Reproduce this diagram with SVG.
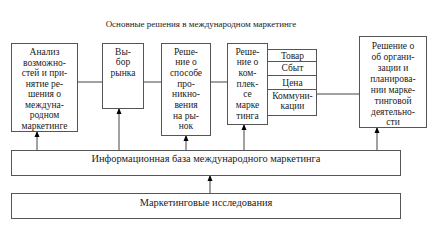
<svg xmlns="http://www.w3.org/2000/svg" width="434" height="227" viewBox="0 0 434 227">
<defs>
<marker id="ah" markerWidth="6" markerHeight="6" refX="5" refY="3" orient="auto" markerUnits="userSpaceOnUse">
<path d="M0,0.5 L6,3 L0,5.5 Z" fill="#000"/>
</marker>
</defs>
<style>
.b{fill:#fff;stroke:#555;stroke-width:1}
.t{font-family:'Liberation Serif','Times New Roman',serif;font-size:9.5px;fill:#222;text-anchor:middle}
.s9{font-size:9px}
.s10{font-size:10.4px}
.c{stroke:#444;stroke-width:1;fill:none}
.a{stroke:#444;stroke-width:1;fill:none;marker-end:url(#ah)}
</style>
<rect width="434" height="227" fill="#fff"/>
<text class="t s9" x="201" y="27">Основные решения в международном маркетинге</text>

<g id="connectors">
<line class="c" x1="78" y1="82" x2="102" y2="82"/>
<line class="c" x1="144" y1="82" x2="161" y2="82"/>
<line class="c" x1="211" y1="82" x2="227" y2="82"/>
<line class="c" x1="317" y1="94" x2="359" y2="94"/>
<line class="a" x1="37" y1="150" x2="37" y2="132"/>
<line class="a" x1="119" y1="150" x2="119" y2="109"/>
<line class="a" x1="186" y1="150" x2="186" y2="136"/>
<line class="a" x1="244" y1="150" x2="244" y2="125"/>
<line class="a" x1="377" y1="150" x2="377" y2="128"/>
<line class="a" x1="210" y1="193" x2="210" y2="176"/>
</g>

<g id="n1">
<rect class="b" x="11.5" y="43.5" width="66" height="88"/>
<text class="t" x="44.5" y="55">Анализ</text>
<text class="t" x="44.5" y="65.5">возможно-</text>
<text class="t" x="44.5" y="76">стей и при-</text>
<text class="t" x="44.5" y="86.5">нятие ре-</text>
<text class="t" x="44.5" y="97">шения о</text>
<text class="t" x="44.5" y="107.5">междуна-</text>
<text class="t" x="44.5" y="118">родном</text>
<text class="t" x="44.5" y="128.5">маркетинге</text>
</g>

<g id="n2">
<rect class="b" x="102.5" y="43.5" width="41" height="65"/>
<text class="t" x="123" y="54.5">Вы-</text>
<text class="t" x="123" y="65">бор</text>
<text class="t" x="123" y="75.5">рынка</text>
</g>

<g id="n3">
<rect class="b" x="161.5" y="43.5" width="49" height="92"/>
<text class="t" x="186" y="54.5">Реше-</text>
<text class="t" x="186" y="65.2">ние о</text>
<text class="t" x="186" y="75.9">способе</text>
<text class="t" x="186" y="86.6">про-</text>
<text class="t" x="186" y="97.3">никно-</text>
<text class="t" x="186" y="108">вения</text>
<text class="t" x="186" y="118.7">на ры-</text>
<text class="t" x="186" y="129.4">нок</text>
</g>

<g id="n4">
<rect class="b" x="227.5" y="43.5" width="40" height="81"/>
<text class="t" x="247.5" y="54.5">Реше-</text>
<text class="t" x="247.5" y="65.2">ние о</text>
<text class="t" x="247.5" y="75.9">ком-</text>
<text class="t" x="247.5" y="86.6">плек-</text>
<text class="t" x="247.5" y="97.3">се</text>
<text class="t" x="247.5" y="108">марке</text>
<text class="t" x="247.5" y="118.7">тинга</text>
</g>

<g id="n4sub">
<rect class="b" x="267.5" y="49.5" width="49" height="12"/>
<rect class="b" x="267.5" y="61.5" width="49" height="14"/>
<rect class="b" x="267.5" y="75.5" width="49" height="14"/>
<rect class="b" x="267.5" y="89.5" width="49" height="26"/>
<text class="t" x="292.5" y="58.5">Товар</text>
<text class="t" x="292.5" y="71">Сбыт</text>
<text class="t" x="292.5" y="85.5">Цена</text>
<text class="t" x="292.5" y="98.5">Коммуни-</text>
<text class="t" x="292.5" y="109">кации</text>
</g>

<g id="n5">
<rect class="b" x="359.5" y="36.5" width="67" height="91"/>
<text class="t" x="393" y="48.5">Решение о</text>
<text class="t" x="393" y="59.5">об органи-</text>
<text class="t" x="393" y="70.5">зации и</text>
<text class="t" x="393" y="81.5">планирова-</text>
<text class="t" x="393" y="92.5">нии марке-</text>
<text class="t" x="393" y="103.5">тинговой</text>
<text class="t" x="393" y="114.5">деятельно-</text>
<text class="t" x="393" y="124.5">сти</text>
</g>

<g id="n6">
<rect class="b" x="11.5" y="150.5" width="389" height="25"/>
<text class="t s10" x="206" y="161.5">Информационная база международного маркетинга</text>
</g>

<g id="n7">
<rect class="b" x="11.5" y="193.5" width="389" height="25"/>
<text class="t s10" x="206" y="205.5">Маркетинговые исследования</text>
</g>
</svg>
